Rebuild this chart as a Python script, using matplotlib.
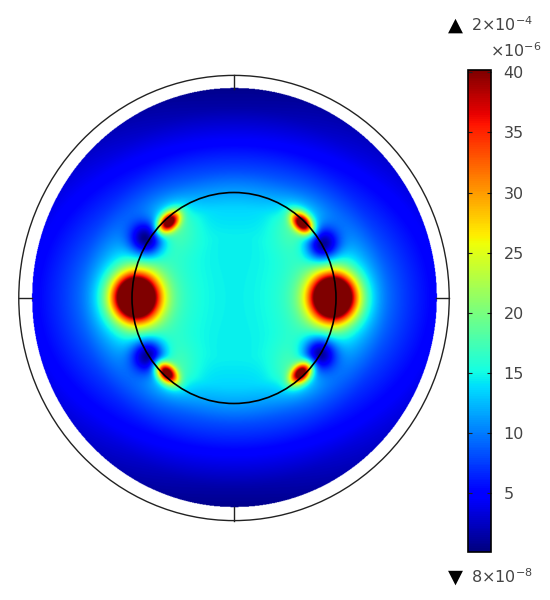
import numpy as np
import matplotlib
matplotlib.use('Agg')
import matplotlib.pyplot as plt
from matplotlib.patches import Circle

# radial profile of the field, read along the vertical and horizontal axes
radius = [0.0, 0.6, 0.85, 1.0, 1.2, 1.5, 1.8, 2.0]
values_top = [14.5, 14.5, 13.5, 11.5, 8.0, 4.5, 1.5, 0.5]
values_side = [14.5, 14.5, 14.5, 13.5, 11.5, 8.0, 6.0, 4.5]

# spots: x, y, amplitude, width along the ring, width across the ring
big_spots = [(-0.97, 0.0, 48, 0.21, 0.21), (0.97, 0.0, 48, 0.21, 0.21)]
small_spots = [(-0.645, 0.715, 34, 0.115, 0.07), (0.665, 0.705, 34, 0.115, 0.07),
               (-0.665, -0.715, 34, 0.115, 0.07), (0.655, -0.715, 34, 0.115, 0.07)]
cold_spots = [(-0.86, 0.55, -15, 0.16, 0.16), (0.86, 0.50, -15, 0.16, 0.16),
              (-0.84, -0.55, -15, 0.16, 0.16), (0.83, -0.53, -15, 0.16, 0.16)]
glow_spots = [(-0.97, 0.0, 6, 0.45, 0.45), (0.97, 0.0, 6, 0.45, 0.45),
              (-0.60, 0.68, 4, 0.24, 0.24), (0.62, 0.67, 4, 0.24, 0.24),
              (-0.62, -0.68, 4, 0.24, 0.24), (0.61, -0.68, 4, 0.24, 0.24)]

bar_ticks = [5, 10, 15, 20, 25, 30, 35, 40]
vmin = 0.08
vmax = 40.2
max_label = '2×10$^{-4}$'
min_label = '8×10$^{-8}$'
scale_label = '×10$^{-6}$'

field_radius = 1.985
outer_radius = 2.11
inner_radius = 1.0
text_color = '#444444'

W, H = 550.0, 600.0
fig = plt.figure(figsize=(5.5, 6.0), dpi=100)

# main axes, 102 px per unit across and 105.5 px per unit down
ax = fig.add_axes([(234 - 224.4) / W, 1 - (298 + 232.1) / H, 448.8 / W, 464.2 / H])
xs = np.linspace(-2.2, 2.2, 900)
ys = np.linspace(-2.2, 2.2, 900)
X, Y = np.meshgrid(xs, ys)
R = np.hypot(X, Y)
s2 = (Y / np.maximum(R, 1e-9)) ** 2
Z = s2 * np.interp(R, radius, values_top) + (1 - s2) * np.interp(R, radius, values_side)
for x0, y0, amp, w_along, w_across in big_spots + small_spots + cold_spots + glow_spots:
    r0 = np.hypot(x0, y0)
    across = ((X - x0) * x0 + (Y - y0) * y0) / r0
    along = (-(X - x0) * y0 + (Y - y0) * x0) / r0
    Z = Z + amp * np.exp(-(along / w_along) ** 2 - (across / w_across) ** 2)

# soften the kinks of the radial profile
kernel = np.ones(15) / 15
Z = np.apply_along_axis(lambda v: np.convolve(v, kernel, mode='same'), 0, Z)
Z = np.apply_along_axis(lambda v: np.convolve(v, kernel, mode='same'), 1, Z)
Z = np.clip(Z, vmin, None)
Z = np.ma.masked_where(R > field_radius, Z)

cmap = plt.get_cmap('jet').copy()
cmap.set_bad('white')
im = ax.imshow(Z, origin='lower', extent=[-2.2, 2.2, -2.2, 2.2], cmap=cmap,
               vmin=vmin, vmax=vmax, aspect='auto')

ax.add_patch(Circle((0, 0), outer_radius, fill=False, ec='#222222', lw=1.0))
ax.add_patch(Circle((0, 0), inner_radius, fill=False, ec='black', lw=1.2))
ax.plot([0, 0], [outer_radius, field_radius], color='#222222', lw=1.0)
ax.plot([0, 0], [-outer_radius, -field_radius], color='#222222', lw=1.0)
ax.plot([-outer_radius, -field_radius], [0, 0], color='#222222', lw=1.0)
ax.plot([outer_radius, field_radius], [0, 0], color='#222222', lw=1.0)
ax.set_xlim(-2.2, 2.2)
ax.set_ylim(-2.2, 2.2)
ax.axis('off')

# colour bar
cax = fig.add_axes([468 / W, 1 - 552 / H, 23 / W, 482 / H])
cb = fig.colorbar(im, cax=cax, ticks=bar_ticks)
cb.outline.set_linewidth(1.2)
cb.outline.set_edgecolor('black')
cax.tick_params(axis='y', direction='in', length=3, width=0.8, color='#222222',
                labelsize=11.5, labelcolor=text_color, pad=9, left=True, right=True)

fig.text(448 / W, 1 - 25 / H, '▲', fontsize=14, color='black', va='center', ha='left')
fig.text(471 / W, 1 - 25 / H, max_label, fontsize=11.5, color=text_color, va='center', ha='left')
fig.text(490 / W, 1 - 51 / H, scale_label, fontsize=11.5, color=text_color, va='center', ha='left')
fig.text(448 / W, 1 - 577 / H, '▼', fontsize=14, color='black', va='center', ha='left')
fig.text(471 / W, 1 - 577 / H, min_label, fontsize=11.5, color=text_color, va='center', ha='left')

fig.savefig('out.png', dpi=100)
